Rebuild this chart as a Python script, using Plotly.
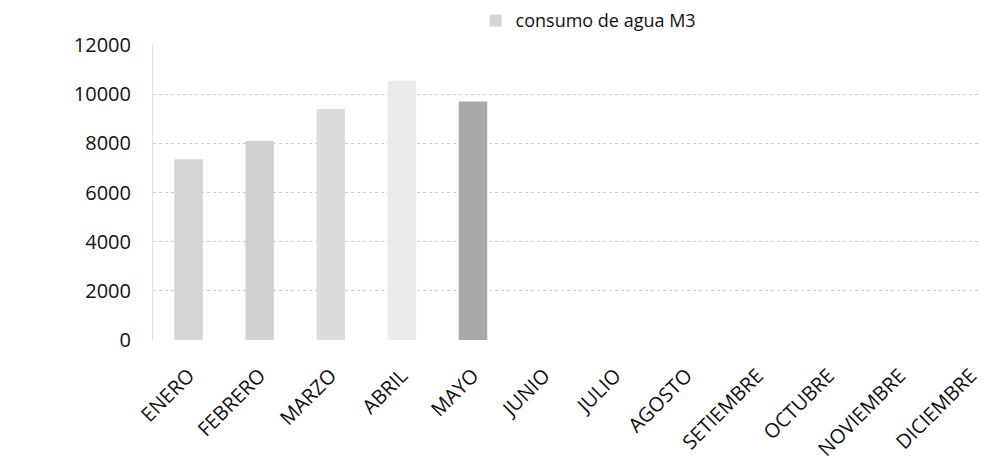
import plotly.graph_objects as go

months = ["ENERO", "FEBRERO", "MARZO", "ABRIL", "MAYO", "JUNIO", "JULIO",
          "AGOSTO", "SETIEMBRE", "OCTUBRE", "NOVIEMBRE", "DICIEMBRE"]
consumo = [7350, 8100, 9400, 10550, 9700, None, None, None, None, None, None, None]
bar_colors = ["#d4d4d4", "#d0d0d0", "#dcdcdc", "#ebebeb", "#a9a9a9",
              "#cccccc", "#cccccc", "#cccccc", "#cccccc", "#cccccc", "#cccccc", "#cccccc"]
series_name = "consumo de agua M3"
y_ticks = [0, 2000, 4000, 6000, 8000, 10000, 12000]

FONT = "Open Sans"

fig = go.Figure()
fig.add_trace(go.Bar(
    x=months, y=consumo, name=series_name,
    marker=dict(color=bar_colors, line=dict(width=0)),
    width=0.4, showlegend=True,
))

fig.update_layout(
    width=978, height=456,
    margin=dict(l=145, r=8, t=37, b=124, autoexpand=False),
    paper_bgcolor="white", plot_bgcolor="white",
    font=dict(family=FONT, size=19, color="#111111"),
    showlegend=True,
    legend=dict(
        orientation="h", x=0.391, xanchor="left",
        y=1.145, yanchor="top",
        font=dict(family=FONT, size=18, color="#111111"),
        bgcolor="rgba(0,0,0,0)", itemwidth=30,
    ),
    xaxis=dict(
        type="category", range=[-0.5, 11.1],
        tickangle=-45, showgrid=False, showline=False,
        ticks="", ticklabelstandoff=19,
        tickfont=dict(family=FONT, size=20, color="#111111"),
    ),
    yaxis=dict(
        range=[0, 12000], tickvals=y_ticks, ticktext=[str(v) for v in y_ticks],
        showgrid=True, gridcolor="#cccccc", gridwidth=1, griddash="dot",
        showline=True, linecolor="#dddddd", linewidth=1,
        zeroline=False, ticks="", ticklabelstandoff=17,
        tickfont=dict(family=FONT, size=20, color="#111111"),
    ),
)

fig.write_html("out.html")
